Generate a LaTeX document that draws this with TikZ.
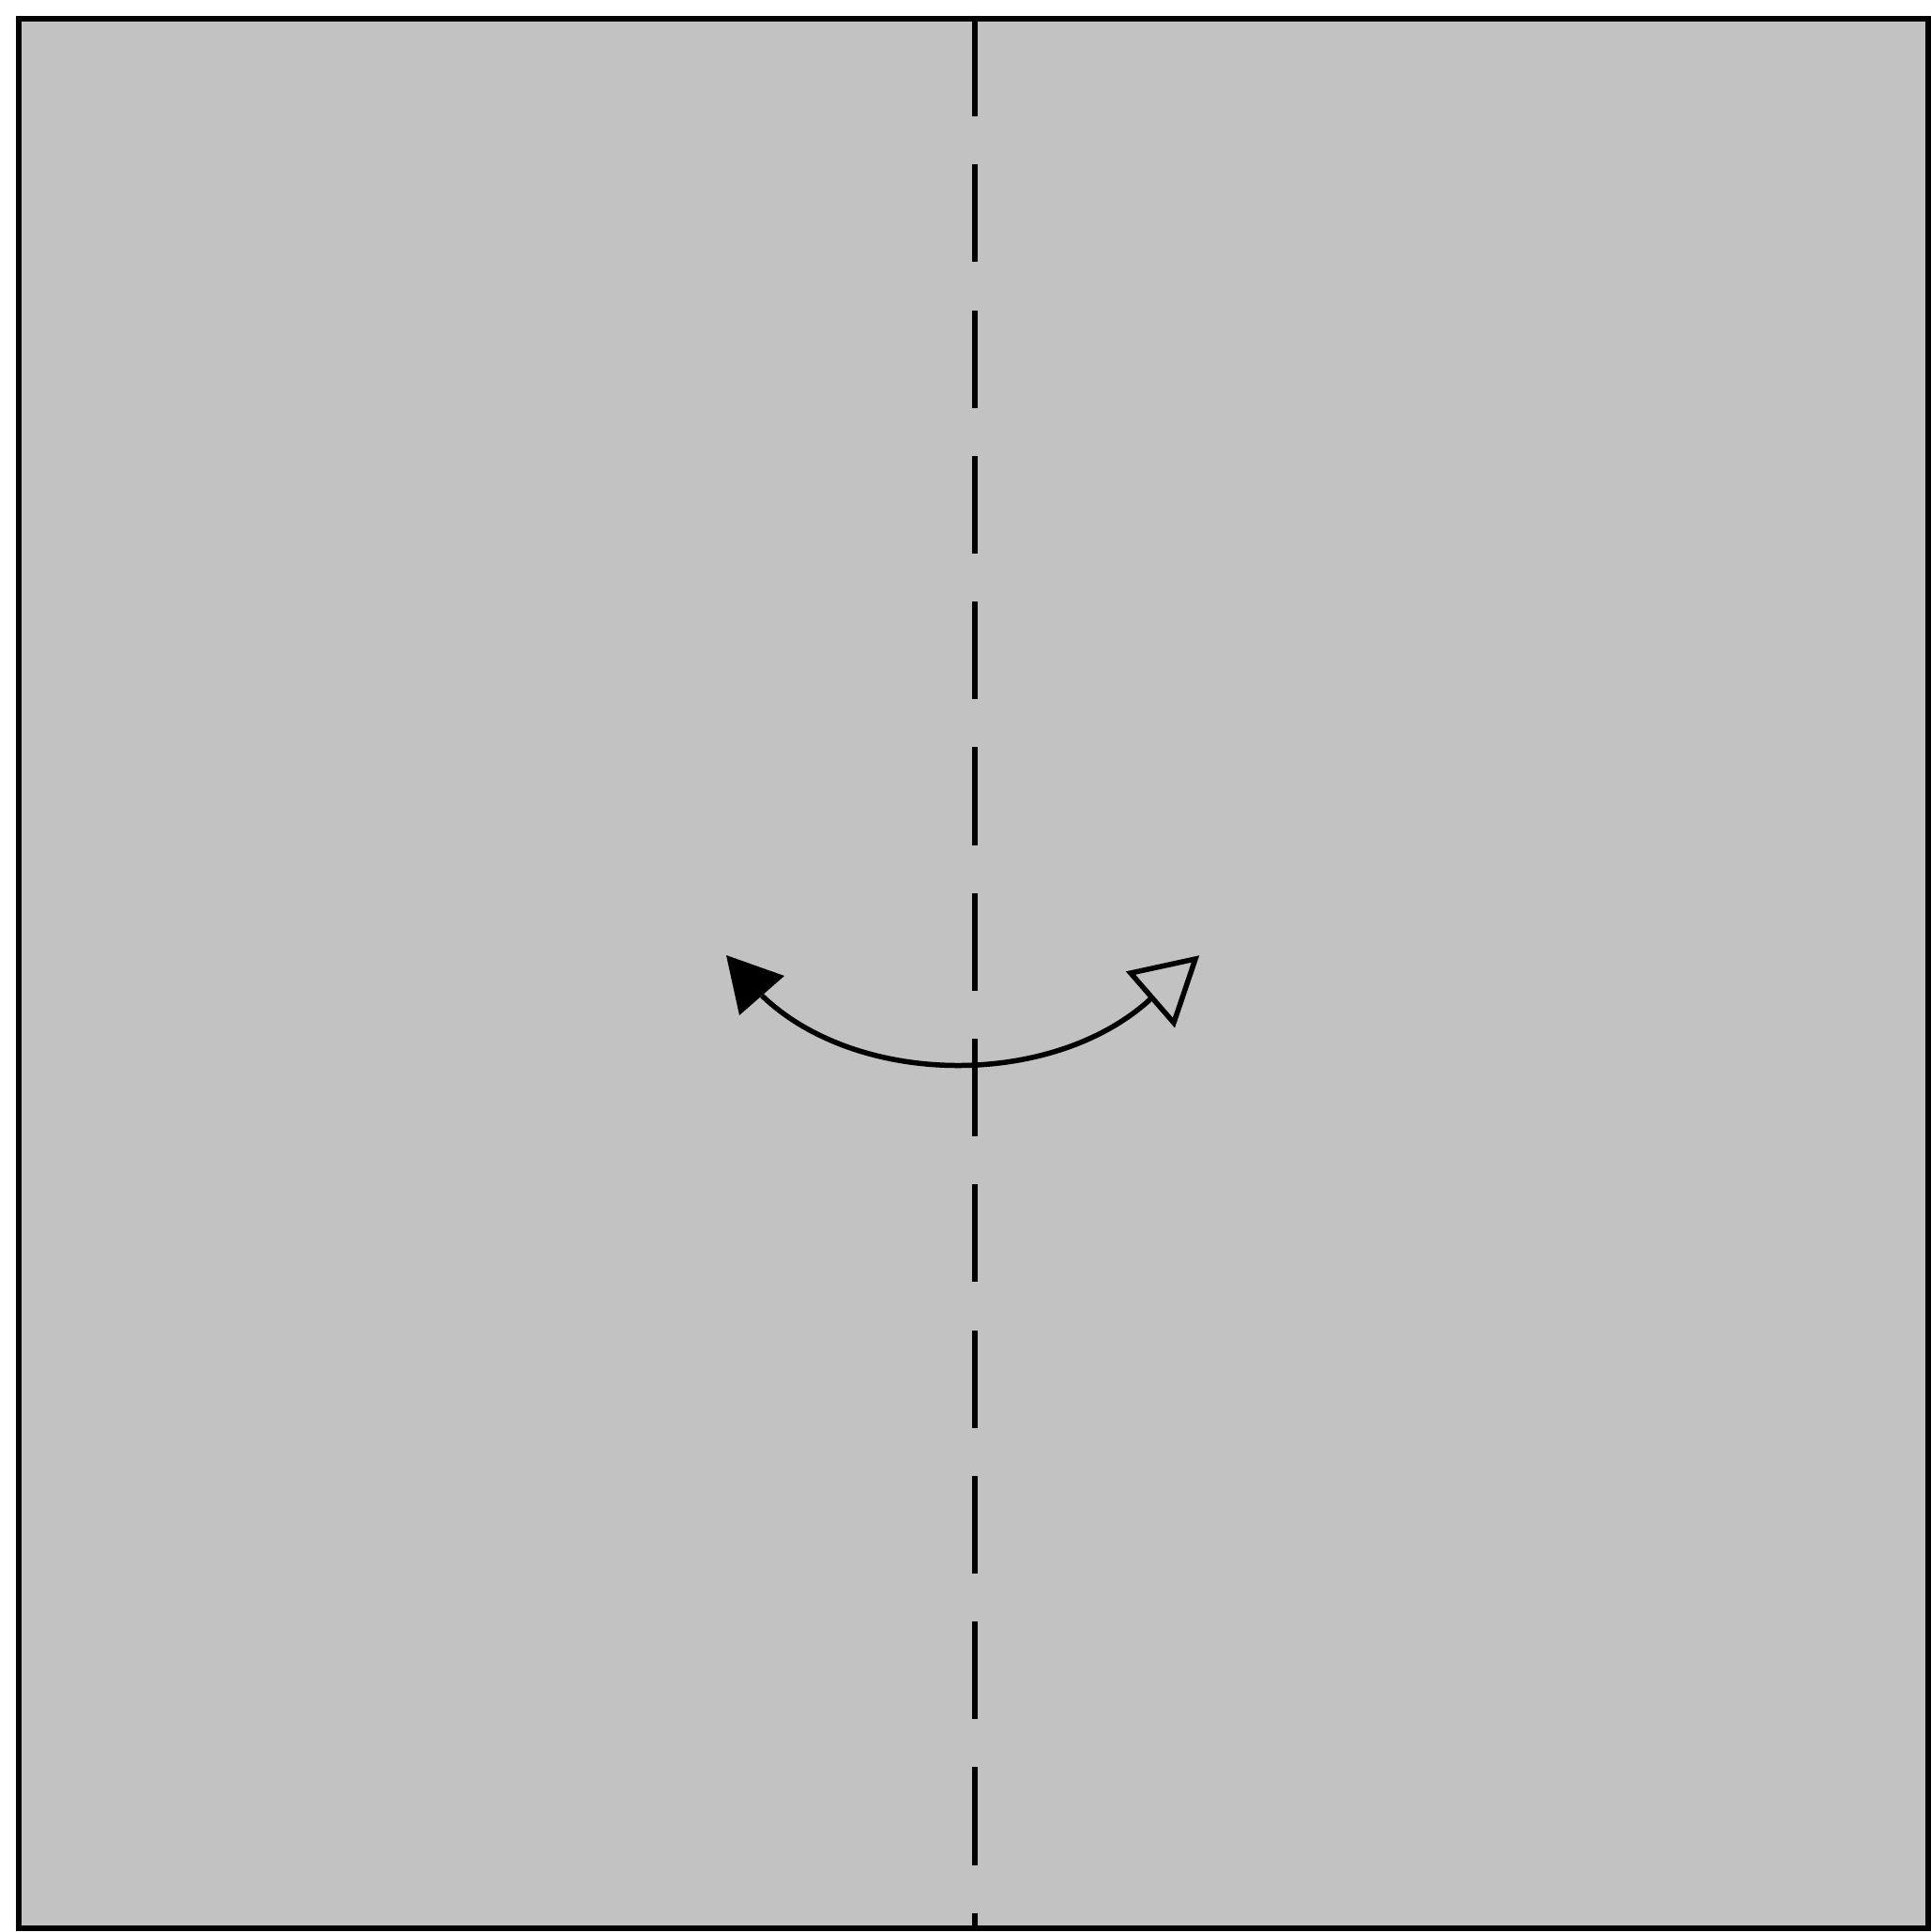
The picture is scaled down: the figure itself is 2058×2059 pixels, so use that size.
\documentclass[tikz,border=0pt]{standalone}
\definecolor{paper}{RGB}{194,194,194}
\begin{document}
\begin{tikzpicture}[x=0.01cm,y=-0.01cm]
\useasboundingbox[fill=white] (0,0) rectangle (2058,2059);
% paper square
\draw[fill=paper,line width=0.06cm] (20,20) rectangle (2055,2055);
% valley fold line
\coordinate (ftop) at (1039,20);
\coordinate (fbot) at (1039,2055);
\draw[line width=0.055cm,dash pattern=on 1.04cm off 0.512cm] (ftop) -- (fbot);
% arrow
\coordinate (ltip) at (774,1018);
\coordinate (lbase) at (812,1061);
\coordinate (rtip) at (1274,1022);
\coordinate (rbase) at (1228,1063);
\draw[line width=0.055cm] (lbase) .. controls (915,1160) and (1125,1160) .. (rbase);
\fill (ltip) -- (788,1082) -- (836,1040) -- cycle;
\draw[line width=0.055cm,fill=paper,line join=miter] (rtip) -- (1205,1037) -- (1251,1090) -- cycle;
\end{tikzpicture}
\end{document}
